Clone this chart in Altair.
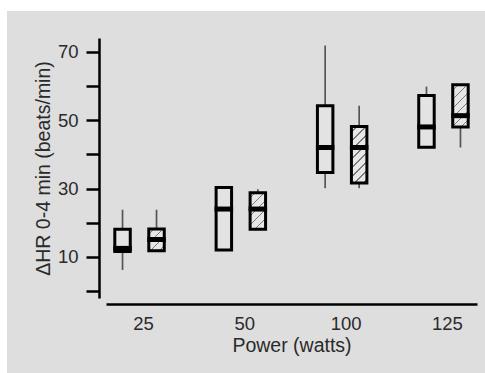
import altair as alt
import pandas as pd

# ---------------- data ----------------
powers = ["25", "50", "100", "125"]
groups = ["open", "hatched"]

open_min = [6.2, 12.0, 30.1, 42.1]
open_q1 = [11.6, 12.0, 34.7, 42.1]
open_med = [12.5, 24.0, 42.0, 48.0]
open_q3 = [18.1, 30.3, 54.2, 57.2]
open_max = [23.8, 30.3, 71.8, 59.8]

hat_min = [11.8, 18.1, 30.1, 42.0]
hat_q1 = [11.8, 18.1, 31.6, 48.0]
hat_med = [15.1, 24.0, 42.0, 51.3]
hat_q3 = [18.2, 28.8, 48.1, 60.3]
hat_max = [23.8, 29.8, 54.2, 60.3]

y_ticks = [0, 10, 20, 30, 40, 50, 60, 70]
y_labels = [10, 30, 50, 70]
y_domain = [-2, 74]

rows = []
for i, p in enumerate(powers):
    rows.append(dict(power=p, group="open", mn=open_min[i], q1=open_q1[i],
                     med=open_med[i], q3=open_q3[i], mx=open_max[i]))
    rows.append(dict(power=p, group="hatched", mn=hat_min[i], q1=hat_q1[i],
                     med=hat_med[i], q3=hat_q3[i], mx=hat_max[i]))
df = pd.DataFrame(rows)

# ---------------- layout / style ----------------
W, H = 371, 260
FONT = "Liberation Sans"
TXT = "#2a2a2a"
BG = "#dedede"
OPEN_FILL = "#e3e3e3"
HATCH_BG = "#e7e7e7"
HATCH_LINE = "#7a7a7a"

x_scale = alt.Scale(domain=powers, paddingInner=0.5, paddingOuter=0.081)
xo_scale = alt.Scale(domain=groups, paddingInner=0.545, paddingOuter=0.0175)
y_scale = alt.Scale(domain=y_domain, nice=False, zero=False)

# pixel sizes used for the hatch gradient geometry
band = W / (len(powers) - 0.5 + 2 * 0.081) * 0.5
sub_bw = band / (2 - 0.545 + 2 * 0.0175) * (1 - 0.545)
px_per_unit = H / (y_domain[1] - y_domain[0])


def hatch(q1, q3, pitch=9.0, lw=1.3):
    h = (q3 - q1) * px_per_unit
    w = sub_bw
    tot = w + h
    k = tot / (w * w + h * h)
    stops = [{"offset": 0, "color": HATCH_BG}]
    c = pitch * 0.6
    while c + lw / 2 < tot:
        a = (c - lw / 2) / tot
        b = (c + lw / 2) / tot
        stops += [{"offset": a, "color": HATCH_BG}, {"offset": a, "color": HATCH_LINE},
                  {"offset": b, "color": HATCH_LINE}, {"offset": b, "color": HATCH_BG}]
        c += pitch
    stops.append({"offset": 1, "color": HATCH_BG})
    return alt.LinearGradient(gradient="linear", stops=stops, x1=0, y1=0,
                              x2=k * w, y2=k * h)


label_expr = "indexof([" + ",".join(str(v) for v in y_labels) + "], datum.value) >= 0 ? datum.label : ''"

x_axis = alt.Axis(title="Power (watts)", ticks=False, tickSize=0,
                  labelAngle=0, labelPadding=10, labelOffset=4, offset=6, zindex=1,
                  domainColor="black", domainWidth=2.5,
                  labelFont=FONT, labelFontSize=18.5, labelColor=TXT,
                  titleFont=FONT, titleFontSize=19.5, titleColor=TXT,
                  titleFontWeight="normal", titlePadding=4)
y_axis = alt.Axis(title="ΔHR 0-4 min (beats/min)", values=y_ticks,
                  labelExpr=label_expr, grid=False, offset=7, zindex=1,
                  domainColor="black", domainWidth=2.5,
                  tickColor="black", tickWidth=2.5, tickSize=13,
                  labelPadding=8, labelFont=FONT, labelFontSize=18.5,
                  labelColor=TXT, titleFont=FONT, titleFontSize=19.5,
                  titleColor=TXT, titleFontWeight="normal", titlePadding=4)

xenc = alt.X("power:N", scale=x_scale, sort=powers, axis=x_axis)
xoenc = alt.XOffset("group:N", scale=xo_scale, sort=groups)


def yenc(field):
    return alt.Y(field, type="quantitative", scale=y_scale, axis=y_axis)


base = alt.Chart(df)

bg = alt.Chart(alt.Data(values=[{"a": 1}])).mark_rect(fill=BG).encode(
    x=alt.value(-99), x2=alt.value(W + 8), y=alt.value(-27), y2=alt.value(H + 75))

whisk = base.mark_rule(color="#555555", strokeWidth=1.7).encode(
    x=xenc, xOffset=xoenc, y=yenc("mn"), y2="mx:Q")

boxes_open = base.transform_filter(alt.datum.group == "open").mark_bar(
    fill=OPEN_FILL, stroke="black", strokeWidth=3, strokeJoin="miter").encode(
    x=xenc, xOffset=xoenc, y=yenc("q1"), y2="q3:Q")

hatched_layers = []
for i, p in enumerate(powers):
    hatched_layers.append(
        base.transform_filter((alt.datum.group == "hatched") & (alt.datum.power == p))
        .mark_bar(fill=hatch(hat_q1[i], hat_q3[i]), stroke="black", strokeWidth=3,
                  strokeJoin="miter")
        .encode(x=xenc, xOffset=xoenc, y=yenc("q1"), y2="q3:Q"))

medians = base.mark_tick(color="black", thickness=5, size=18.5, opacity=1).encode(
    x=xenc, xOffset=xoenc, y=yenc("med"))

chart = alt.layer(bg, whisk, boxes_open, *hatched_layers, medians).properties(
    width=W, height=H,
    autosize=alt.AutoSizeParams(type="none"),
    padding={"left": 106, "top": 38, "right": 8, "bottom": 75},
    background="white",
).configure_view(stroke=None)

chart.save("out.html", embed_options={"renderer": "svg", "actions": False})
